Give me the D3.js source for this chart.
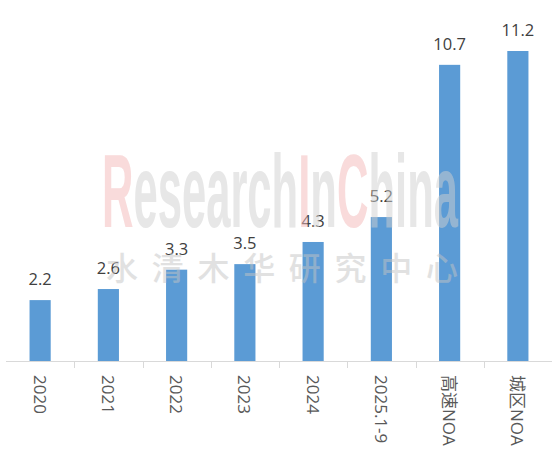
<!DOCTYPE html>
<html>
<head>
<meta charset="utf-8">
<script src="https://cdn.jsdelivr.net/npm/d3@7"></script>
<style>
  body { margin: 0; background: #fff; }
  svg { display: block; font-family: "Open Sans", "Noto Sans CJK SC", sans-serif; }
</style>
</head>
<body>
<svg width="552" height="465"></svg>
<script>
const CATEGORIES = ["2020", "2021", "2022", "2023", "2024", "2025.1-9", "高速NOA", "城区NOA"];
const VALUES = [2.2, 2.6, 3.3, 3.5, 4.3, 5.2, 10.7, 11.2];

const svg = d3.select("svg");

const xScale = d3.scaleBand().domain(CATEGORIES).range([6, 552]).paddingInner(0.69).paddingOuter(0.345);
const yScale = d3.scaleLinear().domain([0, 11.2]).range([361, 51]);

// bars
svg.selectAll("rect.bar")
  .data(VALUES)
  .enter().append("rect")
  .classed("bar", true)
  .attr("x", (d, i) => xScale(CATEGORIES[i]))
  .attr("y", d => yScale(d))
  .attr("width", xScale.bandwidth())
  .attr("height", d => yScale(0) - yScale(d))
  .attr("fill", "#5b9bd5");

// value labels
svg.selectAll("text.val")
  .data(VALUES)
  .enter().append("text")
  .classed("val", true)
  .attr("x", (d, i) => xScale(CATEGORIES[i]) + xScale.bandwidth() / 2)
  .attr("y", d => yScale(d) - 15)
  .attr("text-anchor", "middle")
  .attr("font-size", 16.5)
  .attr("fill", "#404040")
  .text(d => d);

// axis line + ticks between bands
svg.append("line")
  .attr("x1", 6).attr("x2", 552)
  .attr("y1", yScale(0) + 0.5).attr("y2", yScale(0) + 0.5)
  .attr("stroke", "#d9d9d9");

svg.selectAll("line.tick")
  .data(CATEGORIES.slice(1))
  .enter().append("line")
  .classed("tick", true)
  .attr("x1", d => Math.round(xScale(d) - xScale.step() * 0.345) + 0.5)
  .attr("x2", d => Math.round(xScale(d) - xScale.step() * 0.345) + 0.5)
  .attr("y1", yScale(0)).attr("y2", yScale(0) + 7)
  .attr("stroke", "#d9d9d9");

// rotated category labels
svg.selectAll("text.cat")
  .data(CATEGORIES)
  .enter().append("text")
  .classed("cat", true)
  .attr("transform", d => `translate(${xScale(d) + xScale.bandwidth() / 2},375) rotate(90)`)
  .attr("dominant-baseline", "central")
  .attr("font-size", 17)
  .attr("fill", "#595959")
  .text(d => d);

// watermark on top
const wm = svg.append("g").attr("opacity", 0.5);
const wmText = wm.append("text")
  .attr("x", 102).attr("y", 227)
  .attr("font-family", "Liberation Sans Narrow, Liberation Sans, sans-serif")
  .attr("font-weight", "bold")
  .attr("font-size", 103)
  .attr("textLength", 356)
  .attr("lengthAdjust", "spacingAndGlyphs");
[["R", "#f4b8b8"], ["esearch", "#d0d0d0"], ["I", "#f4b8b8"], ["n", "#d0d0d0"], ["C", "#f4b8b8"], ["hina", "#d0d0d0"]]
  .forEach(([t, c]) => wmText.append("tspan").attr("fill", c).text(t));

wm.append("text")
  .attr("x", 106).attr("y", 280)
  .attr("font-family", "Noto Sans CJK SC")
  .attr("font-weight", 500)
  .attr("font-size", 32)
  .attr("textLength", 352)
  .attr("fill", "#c4c4c4")
  .text("水清木华研究中心");
</script>
</body>
</html>
